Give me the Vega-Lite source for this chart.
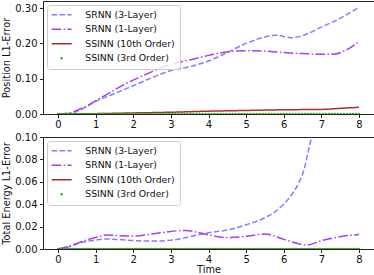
{
  "$schema": "https://vega.github.io/schema/vega-lite/v6.json",
  "padding": {"left": 1, "top": 0, "right": 2, "bottom": 0},
  "bounds": "flush",
  "spacing": 23,
  "datasets": {
    "top": [
      {"t":0,"y":0,"s":"SRNN (3-Layer)"},{"t":0.25,"y":0.001,"s":"SRNN (3-Layer)"},{"t":0.5,"y":0.008,"s":"SRNN (3-Layer)"},{"t":0.75,"y":0.02,"s":"SRNN (3-Layer)"},{"t":1,"y":0.036,"s":"SRNN (3-Layer)"},{"t":1.25,"y":0.047,"s":"SRNN (3-Layer)"},{"t":1.5,"y":0.058,"s":"SRNN (3-Layer)"},{"t":1.75,"y":0.069,"s":"SRNN (3-Layer)"},{"t":2,"y":0.08,"s":"SRNN (3-Layer)"},{"t":2.5,"y":0.103,"s":"SRNN (3-Layer)"},{"t":3,"y":0.123,"s":"SRNN (3-Layer)"},{"t":3.5,"y":0.134,"s":"SRNN (3-Layer)"},{"t":4,"y":0.15,"s":"SRNN (3-Layer)"},{"t":4.5,"y":0.174,"s":"SRNN (3-Layer)"},{"t":5,"y":0.2,"s":"SRNN (3-Layer)"},{"t":5.5,"y":0.218,"s":"SRNN (3-Layer)"},{"t":5.8,"y":0.223,"s":"SRNN (3-Layer)"},{"t":6.2,"y":0.216,"s":"SRNN (3-Layer)"},{"t":6.5,"y":0.222,"s":"SRNN (3-Layer)"},{"t":7,"y":0.246,"s":"SRNN (3-Layer)"},{"t":7.5,"y":0.271,"s":"SRNN (3-Layer)"},{"t":8,"y":0.302,"s":"SRNN (3-Layer)"},
      {"t":0,"y":0,"s":"SRNN (1-Layer)"},{"t":0.25,"y":0.002,"s":"SRNN (1-Layer)"},{"t":0.5,"y":0.01,"s":"SRNN (1-Layer)"},{"t":0.75,"y":0.022,"s":"SRNN (1-Layer)"},{"t":1,"y":0.037,"s":"SRNN (1-Layer)"},{"t":1.25,"y":0.053,"s":"SRNN (1-Layer)"},{"t":1.5,"y":0.068,"s":"SRNN (1-Layer)"},{"t":1.75,"y":0.083,"s":"SRNN (1-Layer)"},{"t":2,"y":0.096,"s":"SRNN (1-Layer)"},{"t":2.5,"y":0.12,"s":"SRNN (1-Layer)"},{"t":3,"y":0.141,"s":"SRNN (1-Layer)"},{"t":3.5,"y":0.153,"s":"SRNN (1-Layer)"},{"t":4,"y":0.166,"s":"SRNN (1-Layer)"},{"t":4.5,"y":0.176,"s":"SRNN (1-Layer)"},{"t":5,"y":0.179,"s":"SRNN (1-Layer)"},{"t":5.5,"y":0.178,"s":"SRNN (1-Layer)"},{"t":6,"y":0.174,"s":"SRNN (1-Layer)"},{"t":6.5,"y":0.171,"s":"SRNN (1-Layer)"},{"t":7,"y":0.169,"s":"SRNN (1-Layer)"},{"t":7.3,"y":0.169,"s":"SRNN (1-Layer)"},{"t":7.6,"y":0.178,"s":"SRNN (1-Layer)"},{"t":8,"y":0.205,"s":"SRNN (1-Layer)"},
      {"t":0,"y":0,"s":"SSINN (10th Order)"},{"t":1,"y":0.001,"s":"SSINN (10th Order)"},{"t":2,"y":0.003,"s":"SSINN (10th Order)"},{"t":3,"y":0.005,"s":"SSINN (10th Order)"},{"t":4,"y":0.008,"s":"SSINN (10th Order)"},{"t":5,"y":0.01,"s":"SSINN (10th Order)"},{"t":6,"y":0.012,"s":"SSINN (10th Order)"},{"t":7,"y":0.013,"s":"SSINN (10th Order)"},{"t":7.5,"y":0.016,"s":"SSINN (10th Order)"},{"t":8,"y":0.019,"s":"SSINN (10th Order)"}
    ],
    "bottom": [
      {"t":0,"y":0,"s":"SRNN (3-Layer)"},{"t":0.25,"y":0.0015,"s":"SRNN (3-Layer)"},{"t":0.5,"y":0.0045,"s":"SRNN (3-Layer)"},{"t":0.75,"y":0.0068,"s":"SRNN (3-Layer)"},{"t":1,"y":0.008,"s":"SRNN (3-Layer)"},{"t":1.3,"y":0.0089,"s":"SRNN (3-Layer)"},{"t":1.6,"y":0.0085,"s":"SRNN (3-Layer)"},{"t":2,"y":0.0075,"s":"SRNN (3-Layer)"},{"t":2.5,"y":0.0071,"s":"SRNN (3-Layer)"},{"t":3,"y":0.0078,"s":"SRNN (3-Layer)"},{"t":3.5,"y":0.011,"s":"SRNN (3-Layer)"},{"t":4,"y":0.0145,"s":"SRNN (3-Layer)"},{"t":4.5,"y":0.017,"s":"SRNN (3-Layer)"},{"t":5,"y":0.0216,"s":"SRNN (3-Layer)"},{"t":5.5,"y":0.028,"s":"SRNN (3-Layer)"},{"t":5.8,"y":0.034,"s":"SRNN (3-Layer)"},{"t":6,"y":0.04,"s":"SRNN (3-Layer)"},{"t":6.2,"y":0.048,"s":"SRNN (3-Layer)"},{"t":6.4,"y":0.059,"s":"SRNN (3-Layer)"},{"t":6.55,"y":0.072,"s":"SRNN (3-Layer)"},{"t":6.65,"y":0.087,"s":"SRNN (3-Layer)"},{"t":6.75,"y":0.102,"s":"SRNN (3-Layer)"},{"t":6.85,"y":0.125,"s":"SRNN (3-Layer)"},
      {"t":0,"y":0,"s":"SRNN (1-Layer)"},{"t":0.25,"y":0.002,"s":"SRNN (1-Layer)"},{"t":0.5,"y":0.005,"s":"SRNN (1-Layer)"},{"t":0.75,"y":0.008,"s":"SRNN (1-Layer)"},{"t":1,"y":0.0103,"s":"SRNN (1-Layer)"},{"t":1.3,"y":0.0125,"s":"SRNN (1-Layer)"},{"t":1.6,"y":0.012,"s":"SRNN (1-Layer)"},{"t":2,"y":0.0116,"s":"SRNN (1-Layer)"},{"t":2.5,"y":0.0134,"s":"SRNN (1-Layer)"},{"t":3,"y":0.0157,"s":"SRNN (1-Layer)"},{"t":3.4,"y":0.0166,"s":"SRNN (1-Layer)"},{"t":3.7,"y":0.015,"s":"SRNN (1-Layer)"},{"t":4,"y":0.0127,"s":"SRNN (1-Layer)"},{"t":4.5,"y":0.0103,"s":"SRNN (1-Layer)"},{"t":5,"y":0.0113,"s":"SRNN (1-Layer)"},{"t":5.5,"y":0.0134,"s":"SRNN (1-Layer)"},{"t":6,"y":0.0086,"s":"SRNN (1-Layer)"},{"t":6.3,"y":0.0055,"s":"SRNN (1-Layer)"},{"t":6.6,"y":0.0035,"s":"SRNN (1-Layer)"},{"t":7,"y":0.0074,"s":"SRNN (1-Layer)"},{"t":7.5,"y":0.011,"s":"SRNN (1-Layer)"},{"t":8,"y":0.013,"s":"SRNN (1-Layer)"},
      {"t":0,"y":0,"s":"SSINN (10th Order)"},{"t":4,"y":0,"s":"SSINN (10th Order)"},{"t":8,"y":0,"s":"SSINN (10th Order)"}
    ],
    "green": [
      {"t":0,"y":0,"s":"SSINN (3rd Order)"},{"t":0.08,"y":0,"s":"SSINN (3rd Order)"},{"t":0.16,"y":0,"s":"SSINN (3rd Order)"},{"t":0.24,"y":0,"s":"SSINN (3rd Order)"},{"t":0.32,"y":0,"s":"SSINN (3rd Order)"},{"t":0.4,"y":0,"s":"SSINN (3rd Order)"},{"t":0.48,"y":0,"s":"SSINN (3rd Order)"},{"t":0.56,"y":0,"s":"SSINN (3rd Order)"},{"t":0.64,"y":0,"s":"SSINN (3rd Order)"},{"t":0.72,"y":0,"s":"SSINN (3rd Order)"},
      {"t":0.8,"y":0,"s":"SSINN (3rd Order)"},{"t":0.88,"y":0,"s":"SSINN (3rd Order)"},{"t":0.96,"y":0,"s":"SSINN (3rd Order)"},{"t":1.04,"y":0,"s":"SSINN (3rd Order)"},{"t":1.12,"y":0,"s":"SSINN (3rd Order)"},{"t":1.2,"y":0,"s":"SSINN (3rd Order)"},{"t":1.28,"y":0,"s":"SSINN (3rd Order)"},{"t":1.36,"y":0,"s":"SSINN (3rd Order)"},{"t":1.44,"y":0,"s":"SSINN (3rd Order)"},{"t":1.52,"y":0,"s":"SSINN (3rd Order)"},
      {"t":1.6,"y":0,"s":"SSINN (3rd Order)"},{"t":1.68,"y":0,"s":"SSINN (3rd Order)"},{"t":1.76,"y":0,"s":"SSINN (3rd Order)"},{"t":1.84,"y":0,"s":"SSINN (3rd Order)"},{"t":1.92,"y":0,"s":"SSINN (3rd Order)"},{"t":2,"y":0,"s":"SSINN (3rd Order)"},{"t":2.08,"y":0,"s":"SSINN (3rd Order)"},{"t":2.16,"y":0,"s":"SSINN (3rd Order)"},{"t":2.24,"y":0,"s":"SSINN (3rd Order)"},{"t":2.32,"y":0,"s":"SSINN (3rd Order)"},
      {"t":2.4,"y":0,"s":"SSINN (3rd Order)"},{"t":2.48,"y":0,"s":"SSINN (3rd Order)"},{"t":2.56,"y":0,"s":"SSINN (3rd Order)"},{"t":2.64,"y":0,"s":"SSINN (3rd Order)"},{"t":2.72,"y":0,"s":"SSINN (3rd Order)"},{"t":2.8,"y":0,"s":"SSINN (3rd Order)"},{"t":2.88,"y":0,"s":"SSINN (3rd Order)"},{"t":2.96,"y":0,"s":"SSINN (3rd Order)"},{"t":3.04,"y":0,"s":"SSINN (3rd Order)"},{"t":3.12,"y":0,"s":"SSINN (3rd Order)"},
      {"t":3.2,"y":0,"s":"SSINN (3rd Order)"},{"t":3.28,"y":0,"s":"SSINN (3rd Order)"},{"t":3.36,"y":0,"s":"SSINN (3rd Order)"},{"t":3.44,"y":0,"s":"SSINN (3rd Order)"},{"t":3.52,"y":0,"s":"SSINN (3rd Order)"},{"t":3.6,"y":0,"s":"SSINN (3rd Order)"},{"t":3.68,"y":0,"s":"SSINN (3rd Order)"},{"t":3.76,"y":0,"s":"SSINN (3rd Order)"},{"t":3.84,"y":0,"s":"SSINN (3rd Order)"},{"t":3.92,"y":0,"s":"SSINN (3rd Order)"},
      {"t":4,"y":0,"s":"SSINN (3rd Order)"},{"t":4.08,"y":0,"s":"SSINN (3rd Order)"},{"t":4.16,"y":0,"s":"SSINN (3rd Order)"},{"t":4.24,"y":0,"s":"SSINN (3rd Order)"},{"t":4.32,"y":0,"s":"SSINN (3rd Order)"},{"t":4.4,"y":0,"s":"SSINN (3rd Order)"},{"t":4.48,"y":0,"s":"SSINN (3rd Order)"},{"t":4.56,"y":0,"s":"SSINN (3rd Order)"},{"t":4.64,"y":0,"s":"SSINN (3rd Order)"},{"t":4.72,"y":0,"s":"SSINN (3rd Order)"},
      {"t":4.8,"y":0,"s":"SSINN (3rd Order)"},{"t":4.88,"y":0,"s":"SSINN (3rd Order)"},{"t":4.96,"y":0,"s":"SSINN (3rd Order)"},{"t":5.04,"y":0,"s":"SSINN (3rd Order)"},{"t":5.12,"y":0,"s":"SSINN (3rd Order)"},{"t":5.2,"y":0,"s":"SSINN (3rd Order)"},{"t":5.28,"y":0,"s":"SSINN (3rd Order)"},{"t":5.36,"y":0,"s":"SSINN (3rd Order)"},{"t":5.44,"y":0,"s":"SSINN (3rd Order)"},{"t":5.52,"y":0,"s":"SSINN (3rd Order)"},
      {"t":5.6,"y":0,"s":"SSINN (3rd Order)"},{"t":5.68,"y":0,"s":"SSINN (3rd Order)"},{"t":5.76,"y":0,"s":"SSINN (3rd Order)"},{"t":5.84,"y":0,"s":"SSINN (3rd Order)"},{"t":5.92,"y":0,"s":"SSINN (3rd Order)"},{"t":6,"y":0,"s":"SSINN (3rd Order)"},{"t":6.08,"y":0,"s":"SSINN (3rd Order)"},{"t":6.16,"y":0,"s":"SSINN (3rd Order)"},{"t":6.24,"y":0,"s":"SSINN (3rd Order)"},{"t":6.32,"y":0,"s":"SSINN (3rd Order)"},
      {"t":6.4,"y":0,"s":"SSINN (3rd Order)"},{"t":6.48,"y":0,"s":"SSINN (3rd Order)"},{"t":6.56,"y":0,"s":"SSINN (3rd Order)"},{"t":6.64,"y":0,"s":"SSINN (3rd Order)"},{"t":6.72,"y":0,"s":"SSINN (3rd Order)"},{"t":6.8,"y":0,"s":"SSINN (3rd Order)"},{"t":6.88,"y":0,"s":"SSINN (3rd Order)"},{"t":6.96,"y":0,"s":"SSINN (3rd Order)"},{"t":7.04,"y":0,"s":"SSINN (3rd Order)"},{"t":7.12,"y":0,"s":"SSINN (3rd Order)"},
      {"t":7.2,"y":0,"s":"SSINN (3rd Order)"},{"t":7.28,"y":0,"s":"SSINN (3rd Order)"},{"t":7.36,"y":0,"s":"SSINN (3rd Order)"},{"t":7.44,"y":0,"s":"SSINN (3rd Order)"},{"t":7.52,"y":0,"s":"SSINN (3rd Order)"},{"t":7.6,"y":0,"s":"SSINN (3rd Order)"},{"t":7.68,"y":0,"s":"SSINN (3rd Order)"},{"t":7.76,"y":0,"s":"SSINN (3rd Order)"},{"t":7.84,"y":0,"s":"SSINN (3rd Order)"},{"t":7.92,"y":0,"s":"SSINN (3rd Order)"},
      {"t":8,"y":0,"s":"SSINN (3rd Order)"}
    ]
  },
  "resolve": {
    "scale": {"x": "independent", "y": "independent", "color": "independent", "strokeDash": "independent"},
    "legend": {"color": "independent", "strokeDash": "independent"}
  },
  "vconcat": [
    {
      "width": 331,
      "height": 113,
      "layer": [
        {
          "data": {"name": "top"},
          "mark": {"type": "line", "strokeWidth": 1.5, "interpolate": "monotone", "clip": true},
          "encoding": {
            "x": {"field": "t", "type": "quantitative", "scale": {"domain": [-0.4, 8.4], "nice": false}, "axis": {"title": null, "values": [0,1,2,3,4,5,6,7,8], "tickCount": 20, "format": "d"}},
            "y": {"field": "y", "type": "quantitative", "scale": {"domain": [0, 0.32], "nice": false}, "axis": {"title": "Position L1-Error", "values": [0,0.1,0.2,0.3], "format": ".2f", "tickCount": 20}},
            "color": {"field": "s", "type": "nominal", "scale": {"domain": ["SRNN (3-Layer)","SRNN (1-Layer)","SSINN (10th Order)","SSINN (3rd Order)"], "range": ["#8080ff","#b03cf0","#b22a2a","#22bb22"]},
              "legend": {"title": null, "encode": {"symbols": {"update": {
                "shape": {"signal": "datum.value === 'SSINN (3rd Order)' ? 'M0.75,0A0.25,0.25 0 1,1 1.25,0A0.25,0.25 0 1,1 0.75,0Z' : 'M-1,0H3'"},
                "fill": {"signal": "datum.value === 'SSINN (3rd Order)' ? '#22bb22' : 'transparent'"},
                "strokeWidth": {"signal": "datum.value === 'SSINN (3rd Order)' ? 0 : 1.5"},
                "size": {"value": 100},
                "opacity": {"value": 1}
              }}}}},
            "strokeDash": {"field": "s", "type": "nominal", "scale": {"domain": ["SRNN (3-Layer)","SRNN (1-Layer)","SSINN (10th Order)","SSINN (3rd Order)"], "range": [[5.5,2.4],[9.6,2.4,1.5,2.4],[1,0],[1,0]]}, "legend": {"title": null}}
          }
        },
        {
          "data": {"name": "green"},
          "mark": {"type": "point", "filled": true, "size": 6, "opacity": 1, "clip": true},
          "encoding": {
            "x": {"field": "t", "type": "quantitative"},
            "y": {"field": "y", "type": "quantitative"},
            "color": {"field": "s", "type": "nominal", "legend": {"title": null}}
          }
        }
      ]
    },
    {
      "width": 331,
      "height": 112,
      "layer": [
        {
          "data": {"name": "bottom"},
          "mark": {"type": "line", "strokeWidth": 1.5, "interpolate": "monotone", "clip": true},
          "encoding": {
            "x": {"field": "t", "type": "quantitative", "scale": {"domain": [-0.4, 8.4], "nice": false}, "axis": {"title": "Time", "values": [0,1,2,3,4,5,6,7,8], "tickCount": 20, "format": "d"}},
            "y": {"field": "y", "type": "quantitative", "scale": {"domain": [0, 0.1], "nice": false}, "axis": {"title": "Total Energy L1-Error", "values": [0,0.02,0.04,0.06,0.08,0.1], "format": ".2f", "tickCount": 20}},
            "color": {"field": "s", "type": "nominal", "scale": {"domain": ["SRNN (3-Layer)","SRNN (1-Layer)","SSINN (10th Order)","SSINN (3rd Order)"], "range": ["#8080ff","#b03cf0","#b22a2a","#22bb22"]},
              "legend": {"title": null, "encode": {"symbols": {"update": {
                "shape": {"signal": "datum.value === 'SSINN (3rd Order)' ? 'M0.75,0A0.25,0.25 0 1,1 1.25,0A0.25,0.25 0 1,1 0.75,0Z' : 'M-1,0H3'"},
                "fill": {"signal": "datum.value === 'SSINN (3rd Order)' ? '#22bb22' : 'transparent'"},
                "strokeWidth": {"signal": "datum.value === 'SSINN (3rd Order)' ? 0 : 1.5"},
                "size": {"value": 100},
                "opacity": {"value": 1}
              }}}}},
            "strokeDash": {"field": "s", "type": "nominal", "scale": {"domain": ["SRNN (3-Layer)","SRNN (1-Layer)","SSINN (10th Order)","SSINN (3rd Order)"], "range": [[5.5,2.4],[9.6,2.4,1.5,2.4],[1,0],[1,0]]}, "legend": {"title": null}}
          }
        },
        {
          "data": {"name": "green"},
          "mark": {"type": "point", "filled": true, "size": 6, "opacity": 1, "clip": true},
          "encoding": {
            "x": {"field": "t", "type": "quantitative"},
            "y": {"field": "y", "type": "quantitative"},
            "color": {"field": "s", "type": "nominal", "legend": {"title": null}}
          }
        }
      ]
    }
  ],
  "config": {
    "font": "DejaVu Sans",
    "view": {"stroke": "#222", "strokeWidth": 1},
    "axis": {"grid": false, "domain": false, "labelOverlap": false, "labelFont": "DejaVu Sans", "titleFont": "DejaVu Sans", "labelFontSize": 10, "titleFontSize": 9.8, "titleFontWeight": "normal", "labelColor": "#111", "titleColor": "#111", "tickColor": "#222", "tickSize": 3.5, "labelPadding": 2.5, "titlePadding": 3},
    "axisX": {"labelPadding": 1.5, "titlePadding": 0},
    "legend": {"orient": "top-left", "offset": 4, "padding": 5, "fillColor": "rgba(255,255,255,0.8)", "strokeColor": "#cccccc", "cornerRadius": 3, "labelFont": "DejaVu Sans", "labelFontSize": 9.3, "labelColor": "#111", "symbolSize": 100, "symbolStrokeWidth": 1.5, "rowPadding": 4.5, "labelOffset": 24}
  }
}
